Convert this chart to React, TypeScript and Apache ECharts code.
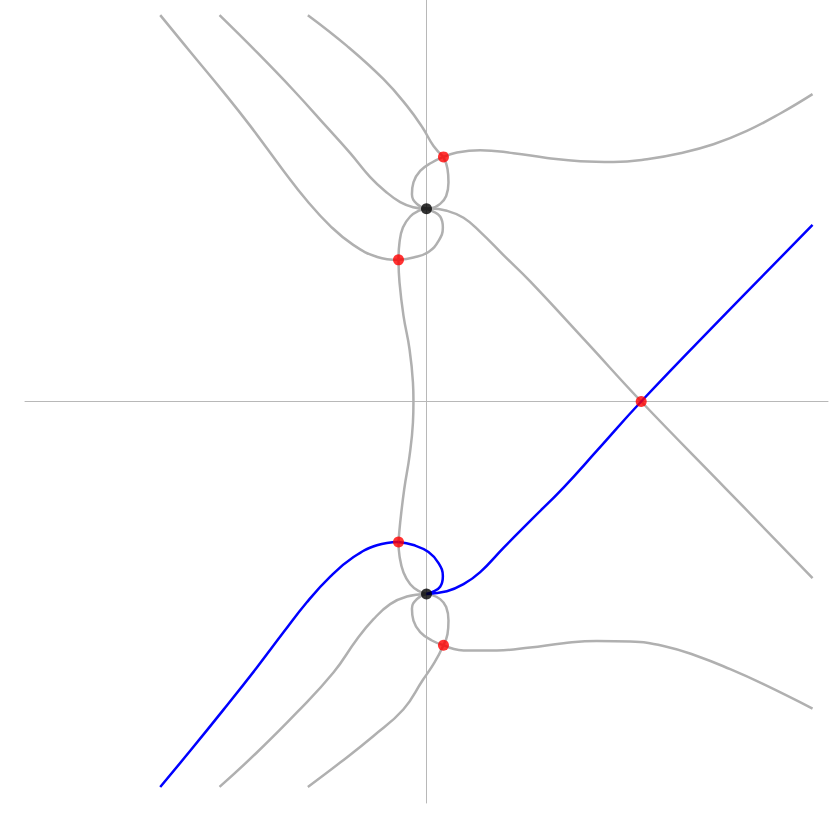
import React, { useEffect, useRef } from "react";
import * as echarts from "echarts";

// Curves (data units, origin at the axes crossing)
const grayTopLeftA = [
  [-2.653, 3.849], [-2.35, 3.48], [-2.02, 3.08], [-1.756, 2.746], [-1.425, 2.3], [-1.19, 2.0],
  [-0.96, 1.75], [-0.73, 1.56], [-0.49, 1.44], [-0.279, 1.411],
];
const grayTopLeftB = [
  [-2.062, 3.849], [-1.69, 3.48], [-1.325, 3.101], [-0.992, 2.733], [-0.76, 2.474],
  [-0.561, 2.235], [-0.411, 2.095], [-0.262, 1.986], [-0.133, 1.936], [0, 1.92],
];
const grayTopLeftC = [
  [-1.182, 3.849], [-0.793, 3.543], [-0.428, 3.211], [-0.195, 2.945], [-0.04, 2.73],
  [0.07, 2.546], [0.169, 2.437],
];
const grayTopLoopUpperLeft = [
  [0.169, 2.437], [0.054, 2.381], [-0.063, 2.297], [-0.13, 2.182], [-0.145, 2.065],
  [-0.096, 1.969], [0, 1.92],
];
const grayTopLoopUpperRight = [
  [0.169, 2.437], [0.209, 2.318], [0.219, 2.182], [0.196, 2.048], [0.136, 1.969],
  [0.037, 1.922], [0, 1.92],
];
const grayTopLoopLowerLeft = [
  [-0.279, 1.411], [-0.269, 1.584], [-0.235, 1.734], [-0.162, 1.843], [-0.08, 1.899], [0, 1.92],
];
const grayTopLoopLowerRight = [
  [-0.279, 1.411], [-0.13, 1.435], [0.02, 1.49], [0.12, 1.6], [0.163, 1.733],
  [0.136, 1.843], [0.054, 1.899], [0, 1.92],
];
const grayTopRight = [
  [0.169, 2.437], [0.303, 2.481], [0.535, 2.504], [0.867, 2.474], [1.2, 2.427],
  [1.531, 2.394], [1.863, 2.387], [2.196, 2.414], [2.528, 2.474], [2.859, 2.563],
  [3.192, 2.696], [3.524, 2.869], [3.846, 3.062],
];
const grayTopDiagonal = [
  [0, 1.92], [0.037, 1.923], [0.203, 1.9], [0.369, 1.83], [0.535, 1.69],
  [0.767, 1.458], [1.033, 1.196], [1.586, 0.601], [2.139, 0], [2.986, -0.872], [3.846, -1.76],
];
const grayMiddle = [
  [-0.279, 1.411], [-0.269, 1.186], [-0.229, 0.853], [-0.169, 0.521], [-0.135, 0.189],
  [-0.13, 0], [-0.135, -0.209], [-0.169, -0.542], [-0.222, -0.874], [-0.262, -1.205],
  [-0.279, -1.399],
];
const grayBottomLoopUpperLeft = [
  [-0.279, -1.399], [-0.269, -1.538], [-0.229, -1.704], [-0.162, -1.82], [-0.08, -1.887], [0, -1.917],
];
const grayBottomLeftB = [
  [-2.062, -3.84], [-1.69, -3.497], [-1.291, -3.098], [-0.927, -2.7], [-0.693, -2.368],
  [-0.528, -2.169], [-0.362, -2.019], [-0.195, -1.943], [0, -1.917],
];
const grayBottomLeftC = [
  [-1.182, -3.84], [-0.86, -3.597], [-0.528, -3.332], [-0.229, -3.066], [-0.04, -2.78],
  [0.08, -2.6], [0.169, -2.428],
];
const grayBottomLoopLowerLeft = [
  [0, -1.917], [-0.096, -1.969], [-0.145, -2.065], [-0.13, -2.182], [-0.063, -2.297],
  [0.054, -2.381], [0.169, -2.428],
];
const grayBottomLoopLowerRight = [
  [0, -1.917], [0.037, -1.922], [0.136, -1.969], [0.196, -2.048], [0.219, -2.182],
  [0.209, -2.318], [0.169, -2.428],
];
const grayBottomRight = [
  [0.169, -2.428], [0.369, -2.48], [0.701, -2.48], [1.033, -2.451], [1.365, -2.408],
  [1.698, -2.385], [2.029, -2.391], [2.361, -2.435], [2.694, -2.535], [3.026, -2.667],
  [3.357, -2.816], [3.846, -3.059],
];
const blueLeft = [
  [-2.653, -3.84], [-2.354, -3.48], [-2.022, -3.07], [-1.69, -2.65], [-1.425, -2.3],
  [-1.192, -2.0], [-0.959, -1.745], [-0.727, -1.55], [-0.494, -1.432], [-0.279, -1.399],
];
const blueLoop = [
  [-0.279, -1.399], [-0.13, -1.43], [0.02, -1.5], [0.12, -1.61], [0.163, -1.74],
  [0.136, -1.845], [0.054, -1.9], [0, -1.917],
];
const blueDiagonal = [
  [0, -1.917], [0.203, -1.89], [0.369, -1.82], [0.535, -1.7], [0.767, -1.458],
  [1.033, -1.19], [1.365, -0.857], [1.698, -0.49], [2.139, 0], [2.986, 0.88], [3.846, 1.759],
];
const redPoints = [
  [0.169, 2.437], [-0.279, 1.411], [2.139, 0], [-0.279, -1.399], [0.169, -2.428],
];
const blackPoints = [
  [0, 1.92], [0, -1.917],
];

const grayCurves = [
  grayTopLeftA, grayTopLeftB, grayTopLeftC, grayTopLoopUpperLeft, grayTopLoopUpperRight,
  grayTopLoopLowerLeft, grayTopLoopLowerRight, grayTopRight, grayTopDiagonal, grayMiddle,
  grayBottomLoopUpperLeft, grayBottomLeftB, grayBottomLeftC, grayBottomLoopLowerLeft,
  grayBottomLoopLowerRight, grayBottomRight,
];
const blueCurves = [blueLeft, blueLoop, blueDiagonal];

export default function App() {
  const ref = useRef<HTMLDivElement>(null);
  useEffect(() => {
    if (!ref.current) return;
    const chart = echarts.init(ref.current, undefined, { renderer: "svg" });
    const lineSeries = (data: number[][], color: string) => ({
      type: "line",
      data,
      smooth: 0.45,
      symbol: "none",
      silent: true,
      lineStyle: { color, width: 2.5 },
      z: color === "#0000ff" ? 3 : 2,
    });
    chart.setOption({
      animation: false,
      grid: { left: 25, right: 2, top: 0, bottom: 29 },
      xAxis: {
        type: "value",
        min: -4,
        max: 4,
        axisLine: { show: true, onZero: true, lineStyle: { color: "#b8b8b8", width: 1 } },
        axisTick: { show: false },
        axisLabel: { show: false },
        splitLine: { show: false },
      },
      yAxis: {
        type: "value",
        min: -4,
        max: 4,
        axisLine: { show: true, onZero: true, lineStyle: { color: "#b8b8b8", width: 1 } },
        axisTick: { show: false },
        axisLabel: { show: false },
        splitLine: { show: false },
      },
      series: [
        ...grayCurves.map((c) => lineSeries(c, "#b0b0b0")),
        ...blueCurves.map((c) => lineSeries(c, "#0000ff")),
        {
          type: "scatter",
          data: redPoints,
          symbolSize: 11,
          itemStyle: { color: "#ff0000" },
          silent: true,
          z: 5,
        },
        {
          type: "scatter",
          data: blackPoints,
          symbolSize: 11,
          itemStyle: { color: "#000000" },
          silent: true,
          z: 5,
        },
      ],
    });
    return () => chart.dispose();
  }, []);
  return (
    <div
      ref={ref}
      style={{ position: "absolute", left: 0, top: 0, width: 830, height: 832, background: "#fff" }}
    />
  );
}
